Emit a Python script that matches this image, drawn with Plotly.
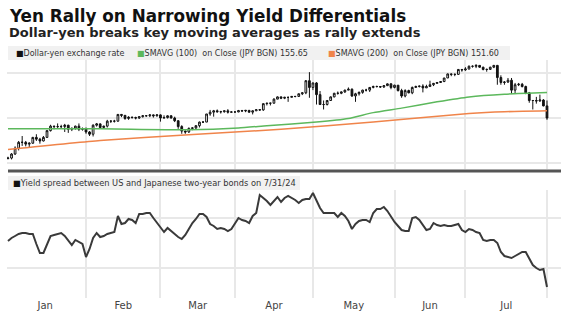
import numpy as np
import pandas as pd
import plotly.graph_objects as go

W, H = 561, 331

# ---------------- data ----------------
dates = pd.bdate_range("2024-01-01", "2024-07-31")
month_labels = ["Jan", "Feb", "Mar", "Apr", "May", "Jun", "Jul"]

usd_open = [
    141.0, 141.1, 142.0, 143.3, 144.6, 144.6, 144.2, 144.4, 145.7, 145.3, 144.9, 145.7, 147.2, 148.2, 148.1, 148.1, 148.1, 148.4, 147.5, 147.7, 148.2, 147.5, 147.6,
    146.9, 146.4, 148.4, 148.7, 147.9, 148.2, 149.3, 149.3, 149.3, 150.8, 150.6, 149.9, 150.2, 150.1, 150.0, 150.3, 150.5, 150.5, 150.7, 150.5, 150.7,
    150.0, 150.1, 150.5, 150.0, 149.4, 148.1, 147.1, 146.9, 147.7, 147.8, 148.3, 149.1, 149.1, 150.9, 151.3, 151.6, 151.4, 151.4, 151.6, 151.3, 151.35,
    151.35, 151.65, 151.57, 151.7, 151.3, 151.6, 151.85, 151.8, 153.2, 153.3, 153.3, 154.2, 154.7, 154.4, 154.6, 154.6, 154.8, 154.8, 155.4, 155.6, 158.3, 156.8,
    157.8, 155.2, 153.0, 153.0, 153.9, 154.7, 155.5, 155.5, 155.8, 156.2, 156.4, 154.9, 155.4, 155.7, 156.2, 156.2, 156.8, 157.0, 157.0, 156.9, 157.2, 157.6, 156.8,
    157.3, 156.1, 154.9, 156.1, 155.6, 156.8, 157.0, 157.1, 156.7, 157.0, 157.4, 157.7, 157.9, 158.1, 158.9, 159.8, 159.7, 159.7, 160.8, 160.7,
    160.9, 161.5, 161.5, 161.7, 161.3, 160.8, 160.8, 161.3, 161.7, 159.0, 157.9, 158.0, 158.4, 156.2, 157.4, 157.5, 157.0, 155.6, 153.9, 153.9, 153.8, 154.0, 152.7,
]
usd_high = [
    141.4, 142.2, 143.7, 144.9, 146.0, 144.9, 144.6, 145.8, 146.4, 145.6, 146.0, 147.3, 148.5, 148.3, 148.8, 148.5, 148.7, 148.5, 147.9, 148.3, 148.8, 147.9, 147.9,
    147.1, 148.6, 148.9, 148.8, 148.3, 149.6, 149.5, 149.6, 150.9, 150.9, 150.6, 150.4, 150.3, 150.3, 150.4, 150.6, 150.6, 150.8, 150.8, 150.8, 150.8,
    150.6, 150.6, 150.6, 150.3, 149.5, 148.4, 147.2, 147.9, 147.9, 148.4, 149.2, 149.3, 150.9, 151.8, 151.8, 151.9, 151.6, 151.6, 151.97, 151.5, 151.4,
    151.8, 151.8, 151.8, 151.8, 151.7, 151.95, 151.95, 153.2, 153.3, 153.4, 154.4, 154.8, 154.8, 154.7, 154.7, 154.9, 154.9, 155.4, 155.7, 158.4, 160.2, 157.9,
    157.99, 156.0, 153.9, 154.0, 154.8, 155.6, 155.9, 155.9, 156.3, 156.8, 156.6, 155.6, 155.9, 156.3, 156.5, 156.9, 157.2, 157.2, 157.1, 157.3, 157.7, 157.7, 157.4,
    157.3, 156.5, 156.4, 156.3, 157.0, 157.2, 157.2, 157.5, 157.4, 158.3, 157.8, 157.9, 158.2, 158.9, 159.9, 159.9, 159.9, 160.9, 160.9, 161.3,
    161.7, 161.7, 161.95, 161.6, 161.4, 161.0, 161.4, 161.8, 161.8, 159.5, 158.2, 158.9, 158.9, 157.8, 157.8, 157.8, 157.2, 155.8, 154.0, 154.7, 155.2, 154.2, 153.9,
]
usd_low = [
    140.8, 140.8, 141.8, 142.8, 143.8, 143.7, 143.4, 144.3, 144.9, 144.3, 144.8, 145.6, 147.0, 147.5, 147.8, 147.7, 146.9, 146.7, 147.1, 147.4, 147.1, 147.2, 146.5,
    146.0, 145.9, 148.1, 147.6, 147.6, 147.9, 148.9, 149.0, 149.2, 150.2, 149.6, 149.6, 149.9, 149.7, 149.8, 150.1, 150.3, 150.2, 150.1, 150.3, 149.2,
    149.9, 149.9, 149.9, 149.1, 147.6, 146.5, 146.5, 146.7, 147.3, 147.5, 147.9, 148.9, 149.1, 150.5, 150.3, 151.2, 151.0, 151.2, 151.0, 151.2, 151.2,
    151.3, 151.4, 151.3, 151.2, 150.8, 151.6, 151.6, 151.6, 152.8, 152.8, 153.2, 154.2, 154.2, 154.2, 153.6, 154.6, 154.6, 154.7, 155.1, 155.3, 154.5, 156.2,
    153.0, 152.9, 151.9, 152.8, 153.8, 154.6, 155.2, 155.3, 155.6, 156.2, 154.7, 153.6, 155.0, 155.4, 155.9, 155.8, 156.6, 156.8, 156.7, 156.7, 157.1, 156.4, 156.6,
    155.9, 154.5, 154.6, 155.5, 155.3, 156.8, 156.8, 155.7, 156.7, 156.9, 157.1, 157.6, 157.8, 158.0, 158.9, 159.3, 159.3, 159.6, 160.3, 160.5,
    160.8, 161.2, 161.1, 161.2, 160.6, 160.3, 160.8, 161.1, 157.4, 157.4, 157.4, 157.8, 155.4, 155.4, 157.1, 156.8, 155.3, 153.4, 151.9, 153.2, 153.6, 152.6, 149.6,
]
usd_close = [
    141.1, 142.0, 143.3, 144.6, 144.6, 144.2, 144.4, 145.7, 145.3, 144.9, 145.7, 147.2, 148.2, 148.1, 148.1, 148.1, 148.4, 147.5, 147.7, 148.2, 147.5, 147.6, 146.9,
    146.4, 148.4, 148.7, 147.9, 148.2, 149.3, 149.3, 149.3, 150.8, 150.6, 149.9, 150.2, 150.1, 150.0, 150.3, 150.5, 150.5, 150.7, 150.5, 150.7, 150.0,
    150.1, 150.5, 150.0, 149.4, 148.1, 147.1, 146.9, 147.7, 147.8, 148.3, 149.1, 149.1, 150.9, 151.3, 151.6, 151.4, 151.4, 151.6, 151.3, 151.35, 151.35,
    151.65, 151.57, 151.7, 151.3, 151.6, 151.85, 151.8, 153.2, 153.3, 153.3, 154.2, 154.7, 154.4, 154.6, 154.6, 154.8, 154.8, 155.4, 155.6, 158.3, 156.8, 157.8,
    155.2, 153.0, 153.0, 153.9, 154.7, 155.5, 155.5, 155.8, 156.2, 156.4, 154.9, 155.4, 155.7, 156.2, 156.2, 156.8, 157.0, 157.0, 156.9, 157.2, 157.6, 156.8, 157.3,
    156.1, 154.9, 156.1, 155.6, 156.8, 157.0, 157.1, 156.7, 157.0, 157.4, 157.7, 157.9, 158.1, 158.9, 159.8, 159.7, 159.7, 160.8, 160.7, 160.9,
    161.5, 161.5, 161.7, 161.3, 160.8, 160.8, 161.3, 161.7, 159.0, 157.9, 158.0, 158.4, 156.2, 157.4, 157.5, 157.0, 155.6, 153.9, 153.9, 153.8, 154.0, 152.7, 150.0,
]

sma100_dates = ["2024-01-01", "2024-02-06", "2024-03-12", "2024-04-01", "2024-04-11", "2024-05-01",
                "2024-05-14", "2024-05-23", "2024-06-04", "2024-06-18", "2024-07-01", "2024-07-15", "2024-07-31"]
sma100 = [147.6, 147.6, 147.4, 147.8, 148.3, 149.1, 149.9, 151.2, 152.2, 153.6, 154.7, 155.3, 155.65]

sma200_dates = ["2024-01-01", "2024-02-06", "2024-03-12", "2024-04-17", "2024-05-23", "2024-07-01",
                "2024-07-15", "2024-07-31"]
sma200 = [143.0, 145.0, 146.3, 147.5, 149.1, 151.0, 151.4, 151.6]

spread = [
    4.27, 4.30, 4.32, 4.34, 4.35, 4.35, 4.34, 4.34, 4.24, 4.15,
    4.15, 4.23, 4.32, 4.33, 4.34, 4.35, 4.32, 4.27, 4.23, 4.28,
    4.26, 4.24, 4.11, 4.19, 4.30, 4.35, 4.31, 4.32, 4.34, 4.35,
    4.36, 4.52, 4.44, 4.45, 4.49, 4.48, 4.45, 4.54, 4.54, 4.55,
    4.55, 4.50, 4.45, 4.40, 4.36, 4.40, 4.37, 4.34, 4.31, 4.29,
    4.33, 4.39, 4.45, 4.49, 4.54, 4.54, 4.51, 4.44, 4.42, 4.39,
    4.40, 4.39, 4.37, 4.39, 4.44, 4.50, 4.48, 4.47, 4.45, 4.52,
    4.55, 4.73, 4.70, 4.67, 4.63, 4.67, 4.71, 4.66, 4.70, 4.72,
    4.70, 4.68, 4.65, 4.68, 4.69, 4.69, 4.75, 4.68, 4.60, 4.55,
    4.55, 4.55, 4.55, 4.51, 4.55, 4.52, 4.47, 4.39, 4.44, 4.47,
    4.48, 4.48, 4.46, 4.55, 4.59, 4.59, 4.61, 4.57, 4.51, 4.46,
    4.42, 4.38, 4.37, 4.37, 4.50, 4.51, 4.48, 4.43, 4.38, 4.39,
    4.45, 4.43, 4.42, 4.43, 4.42, 4.42, 4.43, 4.44, 4.38, 4.36,
    4.39, 4.38, 4.36, 4.35, 4.28, 4.27, 4.28, 4.28, 4.25, 4.16,
    4.12, 4.11, 4.10, 4.12, 4.14, 4.16, 4.16, 4.10, 4.03, 4.00,
    3.98, 3.99, 3.81,
]

for arr in (usd_open, usd_high, usd_low, usd_close, spread):
    assert len(arr) == len(dates), len(arr)

# ---------------- helpers ----------------
idx = np.arange(len(dates))
pos = {d.strftime("%Y-%m-%d"): i for i, d in enumerate(dates)}
month_end = pd.Series(idx, index=dates).groupby(dates.month).max().values
bounds = np.concatenate([[-1], month_end])
month_mid = (bounds[:-1] + bounds[1:]) / 2


def px_x(p):
    return p / W


def px_y(p):
    return 1 - p / H


GRID = "#e8e8e8"
GREEN = "#5cb85c"
ORANGE = "#f0844a"
FONT = "DejaVu Sans"

fig = go.Figure()

fig.add_trace(go.Scatter(x=[pos[d] for d in sma200_dates], y=sma200, mode="lines",
                         line=dict(color=ORANGE, width=1.5, shape="spline", smoothing=0.5),
                         xaxis="x", yaxis="y", hoverinfo="skip"))
fig.add_trace(go.Scatter(x=[pos[d] for d in sma100_dates], y=sma100, mode="lines",
                         line=dict(color=GREEN, width=1.5, shape="spline", smoothing=0.5),
                         xaxis="x", yaxis="y", hoverinfo="skip"))
fig.add_trace(go.Candlestick(x=idx, open=usd_open, high=usd_high, low=usd_low, close=usd_close,
                             increasing=dict(line=dict(color="#111111", width=1), fillcolor="#ffffff"),
                             decreasing=dict(line=dict(color="#111111", width=1), fillcolor="#111111"),
                             whiskerwidth=0, xaxis="x", yaxis="y"))
fig.add_trace(go.Scatter(x=idx, y=spread, mode="lines",
                         line=dict(color="#3a3a3a", width=2),
                         xaxis="x2", yaxis="y2"))

xr = [-0.28, (W - 8) / 3.546]
xcommon = dict(range=xr, domain=[7 / W, 1], tickmode="array", tickvals=month_mid,
               ticktext=month_labels, showgrid=False, zeroline=False, showline=False, ticks="",
               minor=dict(tickmode="array", tickvals=month_end, showgrid=True, gridcolor=GRID, gridwidth=1.5, ticks=""),
               fixedrange=True)

fig.update_layout(
    width=W, height=H, margin=dict(l=0, r=0, t=0, b=0),
    paper_bgcolor="white", plot_bgcolor="white", showlegend=False,
    font=dict(family=FONT, color="#444444"),
    xaxis=dict(**xcommon, anchor="y", showticklabels=False, rangeslider=dict(visible=False)),
    yaxis=dict(domain=[px_y(169), px_y(60)], range=[138.67, 162.9], tickmode="array",
               tickvals=[140, 150, 160], showticklabels=False, showgrid=True, gridcolor=GRID,
               gridwidth=1.5, zeroline=False),
    xaxis2=dict(**xcommon, anchor="y2", showticklabels=True, tickfont=dict(size=10, color="#444444")),
    yaxis2=dict(domain=[px_y(298), px_y(190)], range=[3.70, 4.78], tickmode="array",
                tickvals=[4.0, 4.5], showticklabels=False, showgrid=True, gridcolor=GRID,
                gridwidth=1.5, zeroline=False),
)

shapes = [
    dict(type="rect", xref="paper", yref="paper", x0=px_x(8), x1=px_x(510), y0=px_y(60), y1=px_y(46),
         fillcolor="#f1f1f1", line=dict(width=0), layer="below"),
    dict(type="rect", xref="paper", yref="paper", x0=px_x(8), x1=px_x(300), y0=px_y(190), y1=px_y(176),
         fillcolor="#f1f1f1", line=dict(width=0), layer="below"),
    dict(type="line", xref="paper", yref="paper", x0=px_x(8), x1=1, y0=px_y(171), y1=px_y(171),
         line=dict(color="#555555", width=3)),
]
fig.update_layout(shapes=shapes)


def ann(text, x, y, size, color="#333333", bold=False):
    fig.add_annotation(text=f"<b>{text}</b>" if bold else text, x=px_x(x), y=px_y(y),
                       xref="paper", yref="paper", xanchor="left", yanchor="middle",
                       showarrow=False, font=dict(family=FONT, size=size, color=color))


NB = "\u00a0"
ann("Yen Rally on Narrowing Yield Differentials", 7, 16, 16.8, "#111111", bold=True)
ann("Dollar-yen breaks key moving averages as rally extends", 7, 33, 13, "#222222", bold=True)
ann('<span style="color:#111111">■</span>Dollar-yen exchange rate', 14, 53, 8)
ann(f'<span style="color:{GREEN}">■</span>SMAVG (100){NB}{NB}on Close (JPY BGN) 155.65', 135, 53, 8)
ann(f'<span style="color:{ORANGE}">■</span>SMAVG (200){NB}{NB}on Close (JPY BGN) 151.60', 326, 53, 8)
ann('<span style="color:#111111">■</span>Yield spread between US and Japanese two-year bonds on 7/31/24', 11, 183, 8.25)

fig.write_html("out.html")
